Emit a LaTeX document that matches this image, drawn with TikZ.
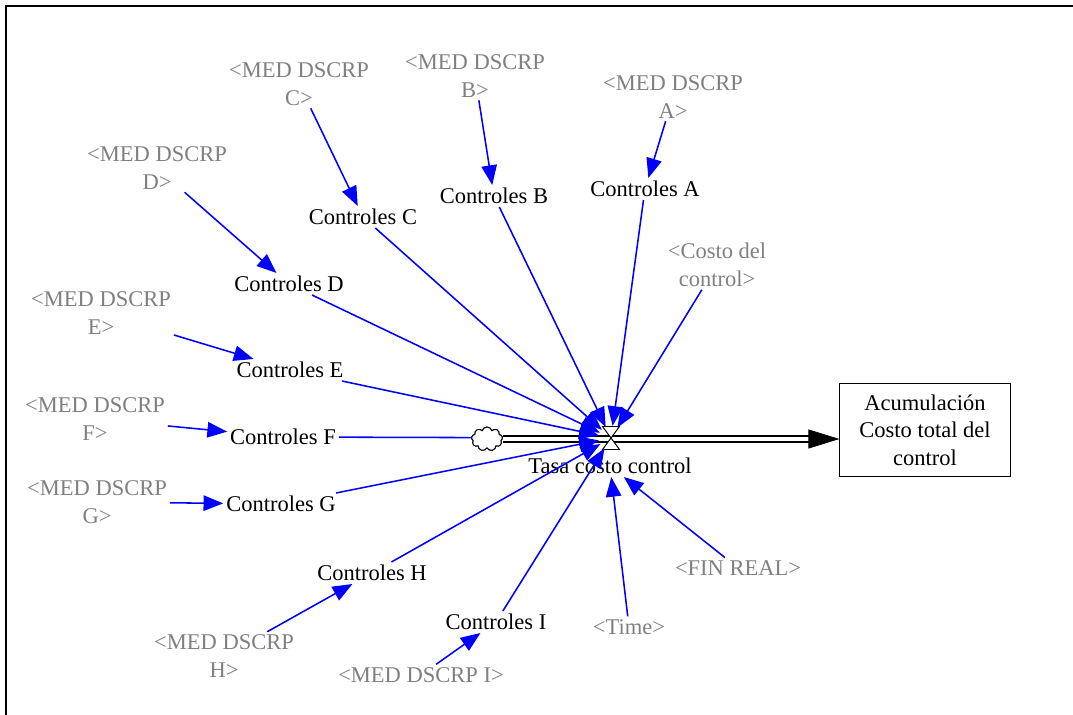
\documentclass[tikz,border=0pt]{standalone}
\usepackage{fontspec}
\setmainfont{Liberation Serif}
\usetikzlibrary{arrows.meta,shapes.symbols}

\begin{document}
\begin{tikzpicture}[x=0.025cm, y=-0.025cm,
  every node/.style={font=\fontsize{16}{19.5}\selectfont, inner sep=2pt, align=center},
  ctl/.style={text=black},
  shadow/.style={text=gray},
  infl/.style={blue, line width=1.1pt, -{Triangle[length=14pt,width=11pt]}},
  pipe/.style={draw=black, line width=1.1pt, double=white, double distance=3pt},
  srccloud/.style={cloud, draw, fill=white, cloud puffs=9, aspect=1.25, line width=0.7pt,
    minimum width=22pt, minimum height=17pt, inner sep=0pt}]
  \useasboundingbox (0,0) rectangle (1073,715);
  % Outer frame (left and top edges only)
  \draw[line width=1.8pt] (6,715) -- (6,6) -- (1073,6);

  % Stock, source cloud and valve
  \node[draw, line width=0.8pt, minimum width=121pt, minimum height=66pt]
    (stock) at (925,430) {Acumulación\\Costo total del\\control};
  \node[srccloud] (src) at (487,439) {};
  \node[circle, minimum size=17pt, inner sep=0pt] (valve) at (611,438) {};
  \node (rate) at (610,466) {Tasa costo control};

  % Auxiliary variables
  \foreach \n/\x/\y in {A/645/189, B/494/196, C/363/217, D/289/284, E/290/370,
                        F/283/437, G/281/504, H/372/573, I/496/622} {
    \node[ctl] (ctl\n) at (\x,\y) {Controles \n};
  }
  % Shadow variables
  \foreach \n/\x/\y in {A/673/97, B/475/76, C/299/84, D/157/168, E/101/313,
                        F/95/419, G/97/502, H/224/656} {
    \node[shadow] (med\n) at (\x,\y) {<MED DSCRP\\\n>};
  }
  \node[shadow] (medI) at (421,675) {<MED DSCRP I>};
  \node[shadow] (costo) at (717,265) {<Costo del\\control>};
  \node[shadow] (finreal) at (738,568) {<FIN REAL>};
  \node[shadow] (time) at (629,627) {<Time>};

  % Links from shadow variables
  \foreach \n in {A,B,C,D,E,F,G,H,I} {
    \draw[infl] (med\n) -- (ctl\n);
  }
  % Link hidden behind the pipe
  \draw[infl] (ctlF) -- (valve);

  % Flow pipe into the stock
  \draw[pipe, shorten >=20pt] (src.east) -- (src.east -| stock.west);
  \draw[white, line width=0.5pt, -{Triangle[length=22pt,width=13.5pt,black]}]
    (src.east) -- (src.east -| stock.west);
  \node[srccloud] at (src) {};
  \filldraw[fill=white, line width=0.7pt] (valve.center) ++(-8.5,-11.5) -- ++(17,0)
    -- ++(-17,23) -- ++(17,0) -- cycle;

  % Links into the rate
  \foreach \n in {A,B,C,D,E,G,H,I} {
    \draw[infl] (ctl\n) -- (valve);
  }
  \draw[infl] (costo) -- (valve);
  \draw[infl] (time) -- (rate);
  \draw[infl] (finreal) -- (rate);
\end{tikzpicture}
\end{document}
